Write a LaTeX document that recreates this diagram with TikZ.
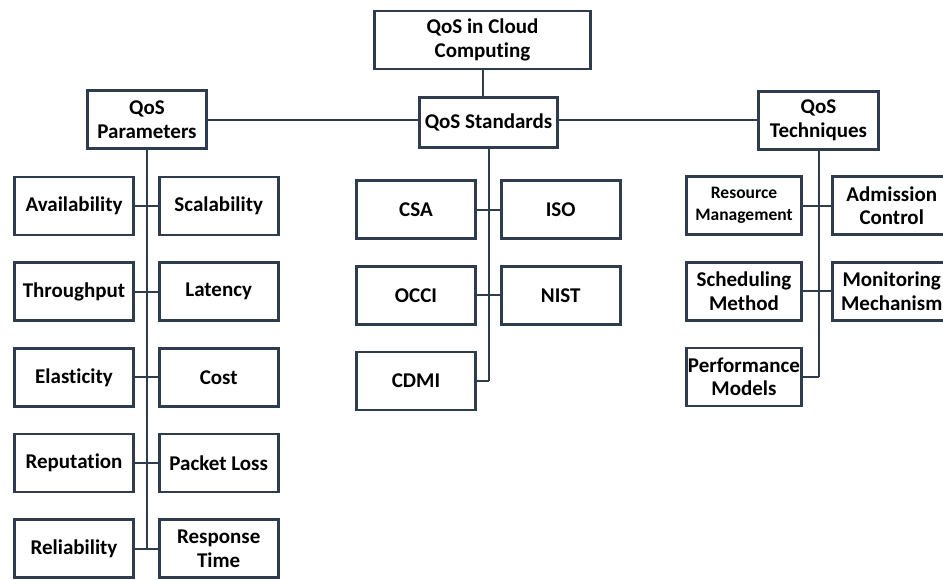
\documentclass[tikz,border=0pt]{standalone}
\usepackage{fontspec}
\setmainfont{Carlito}[Ligatures=NoCommon]
\usetikzlibrary{positioning}
\definecolor{slate}{HTML}{2F3C4E}

\begin{document}
\begin{tikzpicture}[x=1pt,y=1pt,node distance=25pt and 23pt]
    \tikzstyle{every node}=[font=\bfseries\fontsize{21}{23.5}\selectfont]
    \tikzstyle{box}=[draw=slate,line width=2.7pt,fill=white,align=center,minimum width=119pt,minimum height=58pt,inner sep=2pt]
    \tikzstyle{small}=[font=\bfseries\fontsize{17.5}{22}\selectfont]
    \tikzstyle{link}=[draw=slate,line width=2pt]
    \useasboundingbox (0,0) rectangle (943,-579);

    \node[box,minimum width=216pt] (QC) at (482.5,-40) {QoS in Cloud\\Computing};
    \node[box,minimum width=138pt,minimum height=50pt] (QS) at (488.5,-122.5) {QoS Standards};
    \node[box] (QP) at (147,-119.5) {QoS\\Parameters};
    \node[box,minimum width=120pt] (QT) at (818.5,-120.5) {QoS\\Techniques};

    % parameters
    \node[box] (AV) at (74,-206) {Availability};
    \node[box] (SC) [right=of AV] {Scalability};
    \node[box] (TH) [below=of AV] {Throughput};
    \node[box] (LA) [right=of TH] {Latency};
    \node[box] (EL) [below=of TH] {Elasticity};
    \node[box] (CO) [right=of EL] {Cost};
    \node[box] (RP) [below=of EL] {Reputation};
    \node[box] (PL) [right=of RP] {Packet Loss};
    \node[box] (RL) [below=of RP] {Reliability};
    \node[box] (RT) [right=of RL] {Response\\Time};

    % standards
    \node[box] (CS) at (416,-209.5) {CSA};
    \node[box] (IS) [right=of CS] {ISO};
    \node[box] (OC) [below=of CS] {OCCI};
    \node[box] (NI) [right=of OC] {NIST};
    \node[box] (CD) [below=of OC] {CDMI};

    % techniques
    \node[box,small,minimum width=115pt] (RM) at (744,-205.5) {Resource\\Management};
    \node[box] (AC) [right=28pt of RM] {Admission\\Control};
    \node[box,minimum width=115pt] (SM) [below=of RM] {Scheduling\\Method};
    \node[box] (MM) [right=28pt of SM] {Monitoring\\Mechanism};
    \node[box,minimum width=115pt,inner sep=0pt] (PM) [below=of SM] {Performance\\Models};

    \draw[link] (QC.south) -- (QC.south |- QS.north);
    \draw[link] (QP.east) -- (QP.east -| QS.west);
    \draw[link] (QS.east |- QP.east) -- (QP.east -| QT.west);

    \draw[link] (QP.south) -- (QP.south |- RL.east);
    \draw[link] (AV.east) -- (SC.west);
    \draw[link] (TH.east) -- (LA.west);
    \draw[link] (EL.east) -- (CO.west);
    \draw[link] (RP.east) -- (PL.west);
    \draw[link] (RL.east) -- (RT.west);

    \draw[link] (QS.south) -- (QS.south |- CD.east);
    \draw[link] (CS.east) -- (IS.west);
    \draw[link] (OC.east) -- (NI.west);
    \draw[link] (CD.east) -- (QS.south |- CD.east);

    \draw[link] (QT.south) -- (QT.south |- PM.east);
    \draw[link] (RM.east) -- (AC.west);
    \draw[link] (SM.east) -- (MM.west);
    \draw[link] (PM.east) -- (QT.south |- PM.east);
\end{tikzpicture}
\end{document}
